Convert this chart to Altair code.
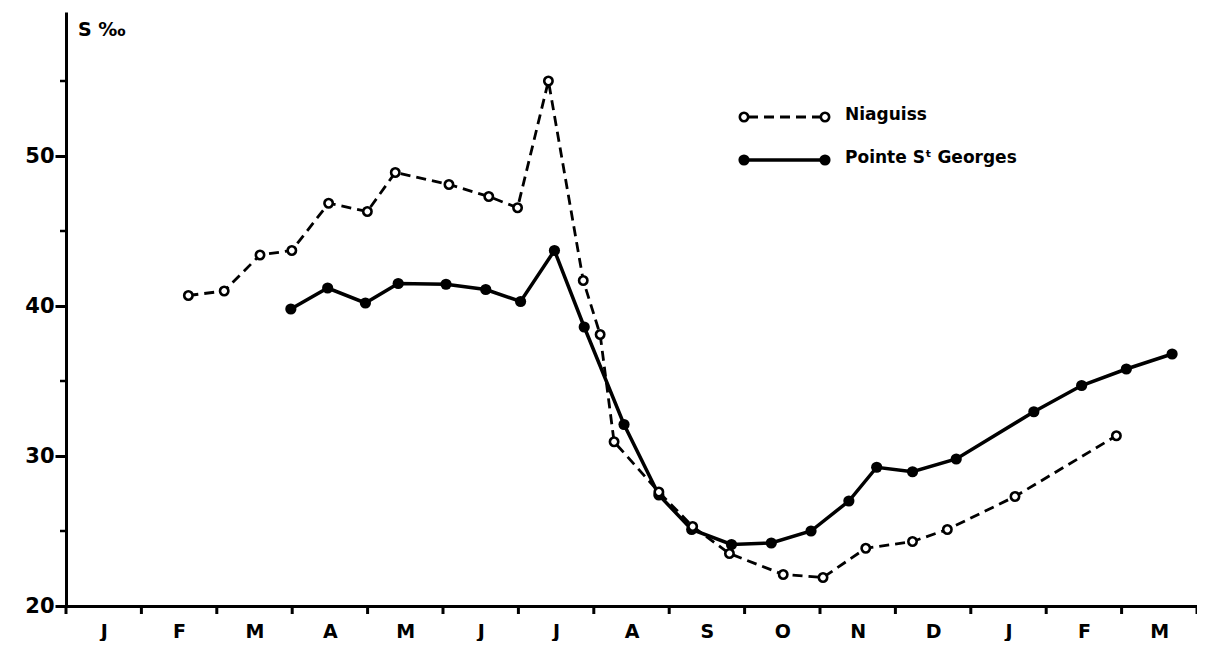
import altair as alt
import pandas as pd

# ---- data ----
months = ["J", "F", "M", "A", "M", "J", "J", "A", "S", "O", "N", "D", "J", "F", "M"]

# time in months from the start of the first J (0 .. 15)
nia_t = [1.623, 2.098, 2.573, 2.995, 3.483, 3.997, 4.367, 5.079, 5.607, 5.989,
         6.398, 6.860, 7.084, 7.269, 7.863, 8.311, 8.799, 9.512, 10.040, 10.607,
         11.227, 11.689, 12.586, 13.931]
nia_s = [40.7, 41.0, 43.4, 43.7, 46.85, 46.3, 48.9, 48.1, 47.3, 46.55,
         55.0, 41.7, 38.1, 30.95, 27.6, 25.3, 23.5, 22.1, 21.9, 23.85,
         24.3, 25.1, 27.3, 31.35]

pt_t = [2.982, 3.470, 3.971, 4.406, 5.040, 5.567, 6.029, 6.478, 6.873, 7.401,
        7.863, 8.298, 8.826, 9.354, 9.881, 10.383, 10.752, 11.227, 11.807, 12.836,
        13.470, 14.063, 14.670]
pt_s = [39.8, 41.2, 40.2, 41.5, 41.45, 41.1, 40.3, 43.7, 38.6, 32.1,
        27.4, 25.1, 24.1, 24.2, 25.0, 27.0, 29.25, 28.95, 29.8, 32.95,
        34.7, 35.8, 36.8]

y_major = [20, 30, 40, 50]
y_minor = [25, 35, 45, 55]
x_ticks = list(range(16))
unit_label = ["S ‰"]
legend_names = ["Niaguiss", "Pointe Sᵗ Georges"]

W, H = 1131, 594
FONT = "DejaVu Sans"

nia = pd.DataFrame({"t": nia_t, "s": nia_s})
pt = pd.DataFrame({"t": pt_t, "s": pt_s})

xscale = alt.Scale(domain=[0, 15], nice=False, zero=False)
yscale = alt.Scale(domain=[20, 59.6], nice=False, zero=False)

month_expr = "[" + ",".join("'%s'" % m for m in months) + "][floor(datum.value)]"

x_axis = alt.Axis(values=[i + 0.5 for i in range(15)], labelExpr=month_expr,
                  tickSize=0, domainWidth=3, domainColor="black",
                  labelFont=FONT, labelFontSize=19, labelFontWeight="bold",
                  labelColor="black", labelPadding=16, grid=False, title=None)
y_axis = alt.Axis(values=y_major, tickSize=11, tickWidth=3, tickColor="black",
                  domainWidth=3, domainColor="black",
                  labelFont=FONT, labelFontSize=21, labelFontWeight="bold",
                  labelColor="black", labelPadding=1, grid=False, title=None)

X = alt.X("t:Q", scale=xscale, axis=x_axis)
Y = alt.Y("s:Q", scale=yscale, axis=y_axis)

pt_line = alt.Chart(pt).mark_line(color="black", strokeWidth=3.5).encode(x=X, y=Y)
pt_pts = alt.Chart(pt).mark_circle(color="black", size=125, opacity=1).encode(x=X, y=Y)

nia_line = alt.Chart(nia).mark_line(color="black", strokeWidth=2.8,
                                    strokeDash=[10, 6]).encode(x=X, y=Y)
nia_pts = alt.Chart(nia).mark_point(shape="circle", filled=True, fill="white",
                                    stroke="black", strokeWidth=2.6, size=70,
                                    opacity=1, fillOpacity=1).encode(x=X, y=Y)

# x-axis month boundary ticks
xt = alt.Chart(pd.DataFrame({"t": x_ticks})).mark_rule(color="black", strokeWidth=3).encode(
    x=X, y=alt.value(H), y2=alt.value(H + 8))

# minor y ticks
yt = alt.Chart(pd.DataFrame({"s": y_minor})).mark_rule(color="black", strokeWidth=2.5).encode(
    y=Y, x=alt.value(-6), x2=alt.value(0))

# unit label
unit = alt.Chart(pd.DataFrame({"lab": unit_label})).mark_text(
    font=FONT, fontSize=19, fontWeight="bold", align="left", baseline="middle",
    color="black").encode(x=alt.value(12), y=alt.value(18), text="lab:N")

# legend
leg_nia_line = alt.Chart(pd.DataFrame({"a": [0]})).mark_rule(
    color="black", strokeWidth=2.8, strokeDash=[10, 6]).encode(
    x=alt.value(682), x2=alt.value(754), y=alt.value(105))
leg_nia_pts = alt.Chart(pd.DataFrame({"px": [678, 759]})).mark_point(
    shape="circle", filled=True, fill="white", stroke="black", strokeWidth=2.6,
    size=70, opacity=1).encode(x=alt.X("px:Q", scale=None), y=alt.value(105))
leg_pt_line = alt.Chart(pd.DataFrame({"a": [0]})).mark_rule(
    color="black", strokeWidth=3.5).encode(
    x=alt.value(678), x2=alt.value(759), y=alt.value(148))
leg_pt_pts = alt.Chart(pd.DataFrame({"px": [678, 759]})).mark_circle(
    color="black", size=125, opacity=1).encode(x=alt.X("px:Q", scale=None), y=alt.value(148))
leg_text = alt.Chart(pd.DataFrame({"lab": legend_names, "py": [103, 146]})).mark_text(
    font=FONT, fontSize=17, fontWeight="bold", align="left", baseline="middle",
    color="black").encode(x=alt.value(779), y=alt.Y("py:Q", scale=None), text="lab:N")

chart = alt.layer(
    pt_line, pt_pts, nia_line, nia_pts, xt, yt, unit,
    leg_nia_line, leg_nia_pts, leg_pt_line, leg_pt_pts, leg_text
).resolve_scale(x="shared", y="shared").properties(
    width=W, height=H,
    padding={"left": 58, "top": 4, "right": 0, "bottom": 35},
    autosize=alt.AutoSizeParams(type="none"),
    background="white",
).configure_view(stroke=None)

chart.save("out.html", embed_options={"renderer": "svg", "actions": False})
